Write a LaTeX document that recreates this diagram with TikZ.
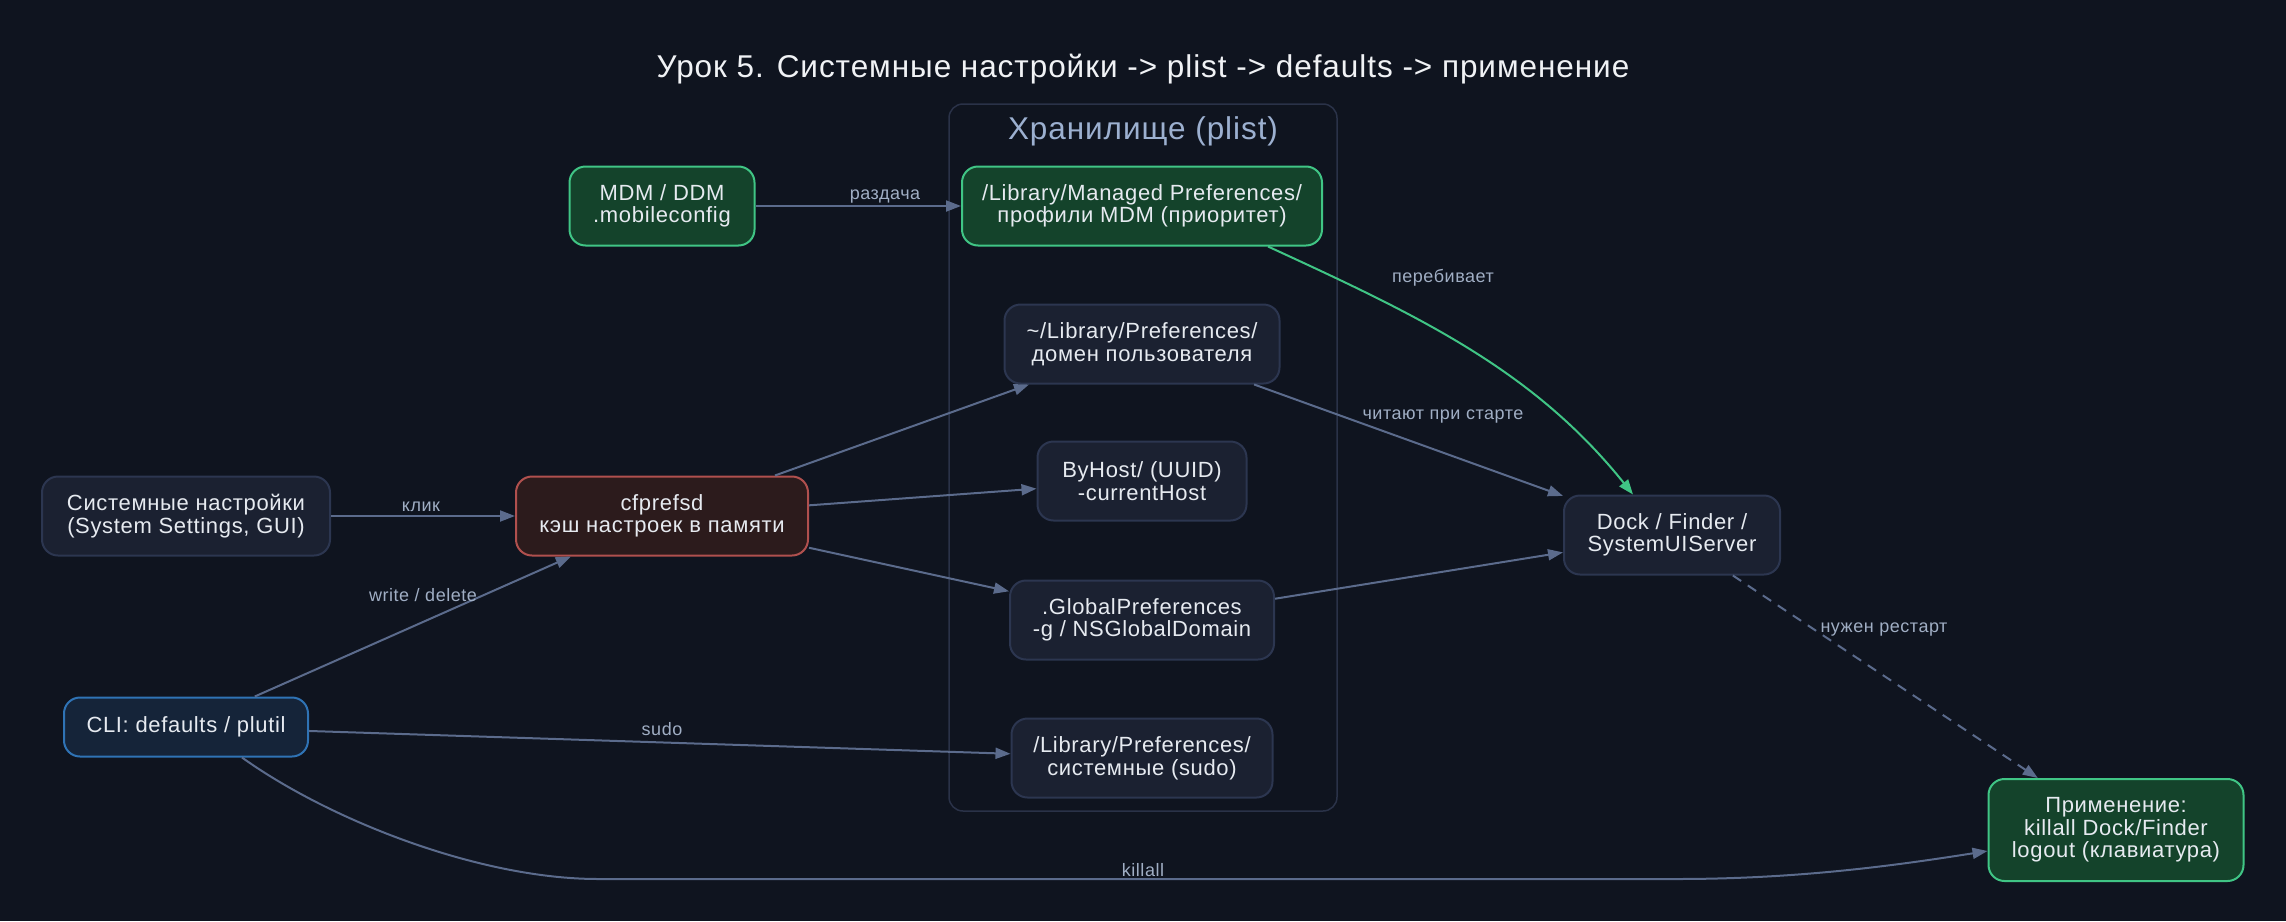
\documentclass[tikz,border=0pt]{standalone}
\usepackage{fontspec}
\setmainfont[LetterSpace=3]{Liberation Sans}
\usetikzlibrary{arrows.meta}
\definecolor{bg}{HTML}{0F141F}
\definecolor{nodefill}{HTML}{1B2131}
\definecolor{nodeborder}{HTML}{2C3650}
\definecolor{nodetext}{HTML}{E6EAF0}
\definecolor{edgec}{HTML}{5B6B8C}
\definecolor{lblc}{HTML}{A0AEC4}
\definecolor{greenfill}{HTML}{14432B}
\definecolor{greenborder}{HTML}{40C585}
\definecolor{redfill}{HTML}{2C1B1C}
\definecolor{redborder}{HTML}{B0504E}
\definecolor{bluefill}{HTML}{152439}
\definecolor{blueborder}{HTML}{2F73B5}
\definecolor{clborder}{HTML}{2A3248}
\definecolor{cllabel}{HTML}{9CB0D0}
\definecolor{titlec}{HTML}{F0F2F5}
\begin{document}
\begin{tikzpicture}[x=1pt,y=-1pt,
  box/.style={draw=nodeborder, fill=nodefill, line width=2pt, rounded corners=16pt,
    text=nodetext, align=center, font=\fontsize{22}{22.6}\selectfont, inner sep=0pt,
    minimum height=79pt},
  greenbox/.style={box, draw=greenborder, fill=greenfill},
  redbox/.style={box, draw=redborder, fill=redfill},
  bluebox/.style={box, draw=blueborder, fill=bluefill},
  cluster/.style={draw=clborder, line width=1.5pt, rounded corners=14pt, inner sep=0pt},
  edge/.style={draw=edgec, line width=2pt, -{Triangle[length=15pt,width=11pt]}},
  greenedge/.style={edge, draw=greenborder, -{Triangle[length=15pt,width=11pt]}},
  lbl/.style={text=lblc, font=\fontsize{18}{21}\selectfont, inner sep=0pt},
]
\fill[bg] (0,0) rectangle (2286,921);
\useasboundingbox (0,0) rectangle (2286,921);

\node[text=titlec, font=\fontsize{31.5}{36}\selectfont] (title) at (1143,69)
  {Урок 5. Системные настройки -> plist -> defaults -> применение};

\node[cluster, minimum width=388pt, minimum height=707pt] (cl) at (1143,457.5) {};
\node[text=cllabel, font=\fontsize{31.5}{36}\selectfont, inner sep=0pt] (cllbl) at (1143,131) {Хранилище (plist)};

\node[box, minimum width=288pt] (sys) at (186,516) {Системные настройки\\(System Settings, GUI)};
\node[redbox, minimum width=292pt] (cf) at (662,516) {cfprefsd\\кэш настроек в памяти};
\node[bluebox, minimum width=244pt, minimum height=59pt] (cli) at (186,727) {CLI: defaults / plutil};
\node[greenbox, minimum width=185pt] (mdm) at (662,206) {MDM / DDM\\.mobileconfig};
\node[greenbox, minimum width=360pt] (mp) at (1142,206) {/Library/Managed Preferences/\\профили MDM (приоритет)};
\node[box, minimum width=275pt] (ud) at (1142,344) {\textasciitilde/Library/Preferences/\\домен пользователя};
\node[box, minimum width=209pt] (bh) at (1142,481) {ByHost/ (UUID)\\-currentHost};
\node[box, minimum width=264pt] (gp) at (1142,620) {.GlobalPreferences\\-g / NSGlobalDomain};
\node[box, minimum width=261pt] (sp) at (1142,758) {/Library/Preferences/\\системные (sudo)};
\node[box, minimum width=216pt] (dock) at (1672,535) {Dock / Finder /\\SystemUIServer};
\node[greenbox, minimum width=255pt, minimum height=102pt] (app) at (2116,830) {Применение:\\killall Dock/Finder\\logout (клавиатура)};

\coordinate (k1) at (598,879);
\coordinate (k2) at (1677,879);

\draw[edge] (sys) -- (cf);
\draw[edge] (cli) -- (cf);
\draw[edge] (cli) -- (sp);
\draw[edge] (mdm) -- (mp);
\draw[edge] (cf) -- (ud);
\draw[edge] (cf) -- (bh);
\draw[edge] (cf) -- (gp);
\draw[edge] (ud) -- (dock);
\draw[edge] (gp) -- (dock);
\draw[edge, dash pattern=on 10pt off 8pt] (dock) -- (app);
\draw[greenedge] ([xshift=126pt]mp.south) .. controls +(150,69) and +(-100,-125) .. ([xshift=-39pt]dock.north);
\draw[edge] ([xshift=56pt]cli.south) .. controls +(88,63) and +(-118,0) .. (k1) -- (k2)
  .. controls +(123,0) and +(-89,14) .. ([yshift=-21pt]app.west);

\node[lbl] (lklik) at (421,507) {клик};
\node[lbl] (lwrite) at (423,595) {write / delete};
\node[lbl] (lsudo) at (662,729) {sudo};
\node[lbl] (lrazd) at (885,197) {раздача};
\node[lbl] (lpereb) at (1443,278) {перебивает};
\node[lbl] (lchit) at (1443,417) {читают при старте};
\node[lbl] (lrest) at (1884,630) {нужен рестарт};
\node[lbl] (lkill) at (1143,870) {killall};
\end{tikzpicture}
\end{document}
